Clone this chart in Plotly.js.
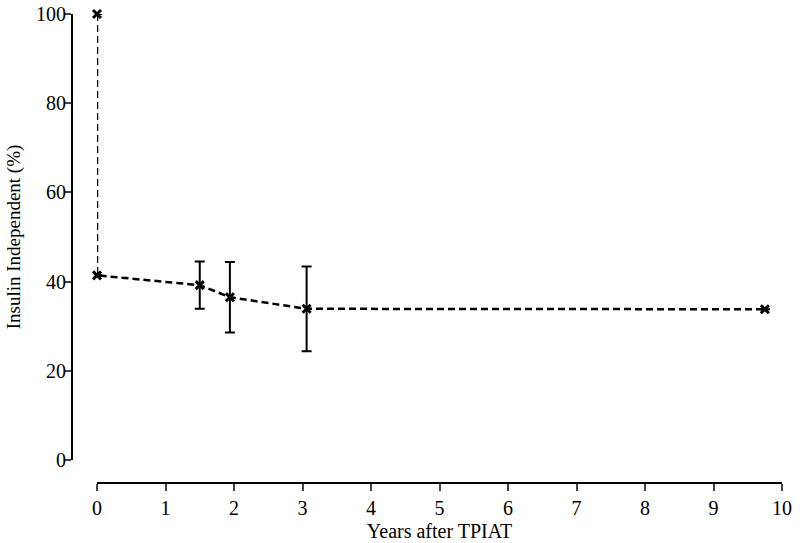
<!DOCTYPE html>
<html>
<head>
<meta charset="utf-8">
<script src="https://cdn.plot.ly/plotly-3.0.1.min.js"></script>
<style>
  html, body { margin: 0; padding: 0; background: #fff; }
  #chart { width: 800px; height: 543px; }
</style>
</head>
<body>
<div id="chart"></div>
<script>
// years after TPIAT vs. percent insulin independent
var years = [0, 0, 1.5, 1.94, 3.06, 9.75];
var pctIndependent = [100, 41.4, 39.2, 36.5, 33.9, 33.8];
var errPct = [0, 0, 5.3, 7.9, 9.5, 0];

var xTicks = [0, 1, 2, 3, 4, 5, 6, 7, 8, 9, 10];
var yTicks = [0, 20, 40, 60, 80, 100];

var serif = 'Liberation Serif, Times New Roman, serif';
var tickFont = {family: serif, size: 20, color: '#000'};

var trace = {
  x: years,
  y: pctIndependent,
  mode: 'lines+markers',
  line: {color: '#000', width: 2.5, dash: '7px,4px'},
  marker: {symbol: 'x-thin-open', size: 8, color: '#000', line: {color: '#000', width: 3}},
  error_y: {type: 'data', array: errPct, visible: true, color: '#000', thickness: 2, width: 5},
  cliponaxis: false,
  hoverinfo: 'skip'
};

var layout = {
  width: 800,
  height: 543,
  margin: {l: 72, r: 18, t: 14, b: 60},
  paper_bgcolor: 'white',
  plot_bgcolor: 'white',
  showlegend: false,
  font: tickFont,
  xaxis: {
    domain: [25 / 710, 1],
    anchor: 'free',
    position: 0,
    range: [0, 10],
    tickvals: xTicks,
    ticks: 'outside',
    ticklen: 7,
    tickwidth: 2,
    showline: true,
    linewidth: 2,
    linecolor: '#000',
    showgrid: false,
    zeroline: false,
    tickfont: tickFont,
    title: {text: 'Years after TPIAT', font: {family: serif, size: 20, color: '#000'}, standoff: 5}
  },
  yaxis: {
    domain: [23 / 469, 1],
    anchor: 'free',
    position: 0,
    range: [0, 100],
    tickvals: yTicks,
    ticks: 'outside',
    ticklen: 6,
    tickwidth: 2,
    ticklabelstandoff: -5,
    showline: true,
    linewidth: 2,
    linecolor: '#000',
    showgrid: false,
    zeroline: false,
    tickfont: tickFont,
    title: {text: 'Insulin Independent (%)', font: {family: serif, size: 19, color: '#000'}, standoff: 9}
  }
};

Plotly.newPlot('chart', [trace], layout, {displayModeBar: false, staticPlot: true});
</script>
</body>
</html>
